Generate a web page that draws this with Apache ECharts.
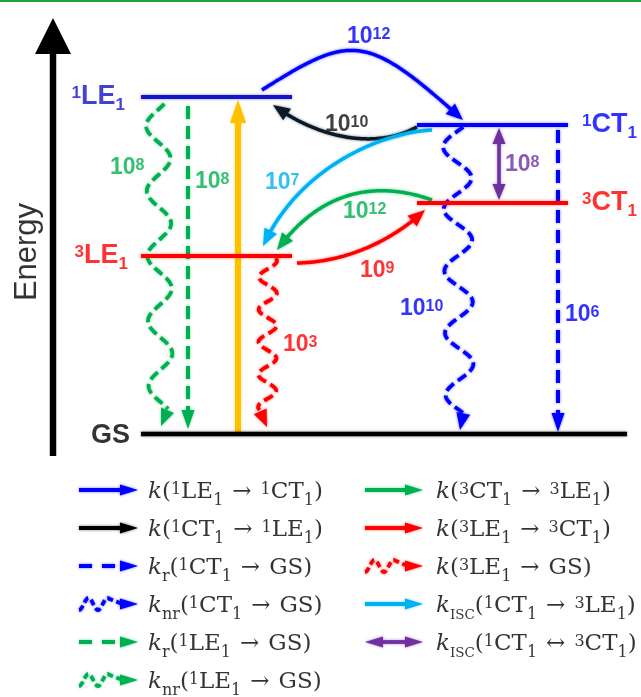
<!DOCTYPE html>
<html>
<head>
<meta charset="utf-8">
<title>Kinetic scheme</title>
<script src="https://cdn.jsdelivr.net/npm/echarts@6.0.0/dist/echarts.min.js"></script>
<style>
html,body{margin:0;padding:0;background:#ffffff;}
#chart{width:641px;height:697px;}
</style>
</head>
<body>
<div id="chart"></div>
<script>
// ================= DATA =================
// Electronic states: relative energy (diagram units, GS = 0) and horizontal extent of each level bar
const levelNames  = ['1LE1', '1CT1', '3CT1', '3LE1', 'GS'];
const levelEnergy = [337, 309, 231, 178, 0];
const levelStart  = [141, 417, 417, 141, 141];
const levelEnd    = [292, 568, 568, 292, 627];

// Transitions between states and their rate constants (k = 10^exp s^-1)
const transFrom    = ['1LE1', '1CT1', '1CT1', '3CT1', '3LE1', '1CT1', '1LE1', '1LE1', 'GS', '3LE1', '1CT1', '1CT1'];
const transTo      = ['1CT1', '1LE1', '3LE1', '3LE1', '3CT1', '3CT1', 'GS', 'GS', '1LE1', 'GS', 'GS', 'GS'];
const transRateExp = [12, 10, 7, 12, 9, 8, 8, 8, null, 3, 10, 6];

// Legend entries
const legendLabels = [
  '{k|k}{n|(}{p|1}{n|LE}{b|1}{a|→}{p|1}{n|CT}{b|1}{n|)}',
  '{k|k}{n|(}{p|1}{n|CT}{b|1}{a|→}{p|1}{n|LE}{b|1}{n|)}',
  '{k|k}{b|r}{n|(}{p|1}{n|CT}{b|1}{a|→}{n|GS)}',
  '{k|k}{b|nr}{n|(}{p|1}{n|CT}{b|1}{a|→}{n|GS)}',
  '{k|k}{b|r}{n|(}{p|1}{n|LE}{b|1}{a|→}{n|GS)}',
  '{k|k}{b|nr}{n|(}{p|1}{n|LE}{b|1}{a|→}{n|GS)}',
  '{k|k}{n|(}{p|3}{n|CT}{b|1}{a|→}{p|3}{n|LE}{b|1}{n|)}',
  '{k|k}{n|(}{p|3}{n|LE}{b|1}{a|→}{p|3}{n|CT}{b|1}{n|)}',
  '{k|k}{n|(}{p|3}{n|LE}{b|1}{a|→}{n|GS)}',
  '{k|k}{c|ISC}{n|(}{p|1}{n|CT}{b|1}{a|→}{p|3}{n|LE}{b|1}{n|)}',
  '{k|k}{c|ISC}{n|(}{p|1}{n|CT}{b|1}{a|↔}{p|3}{n|CT}{b|1}{n|)}'
];

// ================= PRESENTATION =================
const C = {blue:'#0000ff', navy:'#1414c8', black:'#000000', dark:'#0b1a28', green:'#00b050',
           red:'#ff0000', cyan:'#00b0f0', purple:'#7030a0', gold:'#ffc000'};
const levelColor      = [C.navy, C.blue, C.red, C.red, C.black];
const levelLabelX     = [125, 582, 582, 128, 130];
const levelLabelDE    = [0, 0, 0, 0, -2];
const levelLabelAlign = ['right', 'left', 'left', 'right', 'right'];

const transColor = [C.blue, C.dark, C.cyan, C.green, C.red, C.purple, C.green, C.green, C.gold, C.red, C.blue, C.blue];
// geometry in diagram units [x, energy]
const transGeom = [
  {kind:'curve',  pts:[[262,344],[352,401],[366,401],[463,314]]},
  {kind:'curve',  pts:[[417,307],[375,284],[318,296],[273,329]]},
  {kind:'curve',  pts:[[432,304],[385,302],[300,269],[263,188]]},
  {kind:'curve',  pts:[[432,234],[390,249],[328,254],[277,184]]},
  {kind:'curve',  pts:[[297,171],[350,172],[395,196],[425,224]]},
  {kind:'double', pts:[[499,306],[499,234]]},
  {kind:'wave',   pts:[[158,330],[161,8]],  wave:[65,12,22]},
  {kind:'dash',   pts:[[188,328],[188,5]]},
  {kind:'solid',  pts:[[238,1],[238,334]]},
  {kind:'wave',   pts:[[268,176],[267,7]],  wave:[32.5,9,19]},
  {kind:'wave',   pts:[[457,307],[460,4]],  wave:[62,14,20]},
  {kind:'dash',   pts:[[558,304],[558,2]]}
];
const rateLabelPos = [[347,397],[325,309],[265,251],[343,222],[360,163],[505,269],[110,266],[195,252],null,[283,89],[400,125],[565,119]];
const rateLabelColor = [C.blue, '#111111', C.cyan, C.green, C.red, C.purple, C.green, C.green, null, C.red, C.blue, C.blue];

const legendKind  = ['solid','solid','dash','wave','dash','wave','solid','solid','wave','solid','double'];
const legendColor = [C.blue, C.black, C.blue, C.blue, C.green, C.green, C.green, C.red, C.red, C.cyan, C.purple];
const legendCol   = [0,0,0,0,0,0,1,1,1,1,1];
const legendRow   = [0,1,2,3,4,5,0,1,2,3,4];
const colIconX = [[79,138],[365,423]];
const colTextX = [148, 436];
const rowE = [-57,-95,-133,-171,-209,-247];

// ================= HELPERS =================
function rgba(hex, a) {
  const h = hex.replace('#','');
  const r = parseInt(h.substr(0,2),16), g = parseInt(h.substr(2,2),16), b = parseInt(h.substr(4,2),16);
  return 'rgba(' + r + ',' + g + ',' + b + ',' + a + ')';
}
function bezier(p, n) {
  const out = [];
  for (let i = 0; i <= n; i++) {
    const t = i / n, a = 1 - t;
    out.push([
      a*a*a*p[0][0] + 3*a*a*t*p[1][0] + 3*a*t*t*p[2][0] + t*t*t*p[3][0],
      a*a*a*p[0][1] + 3*a*a*t*p[1][1] + 3*a*t*t*p[2][1] + t*t*t*p[3][1]
    ]);
  }
  return out;
}
function trimEnd(pts, len) {
  const tip = pts[pts.length - 1];
  let i = pts.length - 1;
  while (i > 0 && Math.hypot(pts[i][0]-tip[0], pts[i][1]-tip[1]) < len) i--;
  return pts.slice(0, i + 1);
}
function head(tip, from, len, wid) {
  const dx = tip[0]-from[0], dy = tip[1]-from[1], L = Math.hypot(dx, dy) || 1;
  const ux = dx/L, uy = dy/L;
  const bx = tip[0] - ux*len, by = tip[1] - uy*len;
  return [[tip[0], tip[1]], [bx - uy*wid/2, by + ux*wid/2], [bx + uy*wid/2, by - ux*wid/2]];
}
function drawArrow(kind, P, color, opt) {
  const hl = opt.hl, hw = opt.hw;
  const glow = opt.glow == null ? 3 : opt.glow;
  let body, heads = [];
  if (kind === 'curve') {
    const s = bezier(P, 120);
    const tip = s[s.length - 1];
    body = trimEnd(s, hl * 0.85);
    heads.push(head(tip, body[body.length - 1], hl, hw));
  } else if (kind === 'wave') {
    const lam = opt.wave[0], A = opt.wave[1], dL = opt.wave[2];
    const S = P[0], T = P[1];
    const L = Math.hypot(T[0]-S[0], T[1]-S[1]);
    const ux = (T[0]-S[0])/L, uy = (T[1]-S[1])/L;
    const nx = uy, ny = -ux;
    const dEnd = L - hl * (opt.straightEnd ? 1.6 : 1.0);
    body = [];
    for (let d = 0; d <= dEnd; d += 0.5) {
      const o = -A * Math.cos(2*Math.PI*(d - dL)/lam);
      body.push([S[0] + ux*d + nx*o, S[1] + uy*d + ny*o]);
    }
    if (opt.straightEnd) {
      body.push([T[0] - ux*hl*0.85, T[1] - uy*hl*0.85]);
      heads.push(head(T, S, hl, hw));
    } else {
      heads.push(head(T, body[body.length - 1], hl, hw));
    }
  } else {
    const S = P[0], T = P[1];
    const L = Math.hypot(T[0]-S[0], T[1]-S[1]);
    const ux = (T[0]-S[0])/L, uy = (T[1]-S[1])/L;
    const a = kind === 'double' ? [S[0] + ux*hl*0.85, S[1] + uy*hl*0.85] : S;
    body = [a, [T[0] - ux*hl*0.85, T[1] - uy*hl*0.85]];
    heads.push(head(T, S, hl, hw));
    if (kind === 'double') heads.push(head(S, T, hl, hw));
  }
  const dash = kind === 'dash' ? opt.dash : (kind === 'wave' ? opt.waveDash : null);
  const children = [{
    type: 'polyline', silent: true,
    shape: {points: body},
    style: {stroke: color, lineWidth: opt.lw, fill: 'none', lineDash: dash, lineJoin: 'round',
            shadowBlur: glow, shadowColor: rgba(color, 0.55)}
  }];
  heads.forEach(h => children.push({
    type: 'polygon', silent: true, shape: {points: h},
    style: {fill: color, stroke: 'none', shadowBlur: glow, shadowColor: rgba(color, 0.55)}
  }));
  return children;
}
function levelRich(name) {
  const m = name.match(/^(\d)(\D+)(\d)$/);
  return m ? '{p|' + m[1] + '}{m|' + m[2] + '}{b|' + m[3] + '}' : '{m|' + name + '}';
}

const SANS = "'Liberation Sans', Arial, sans-serif";
const SERIF = "'DejaVu Serif', serif";

// ================= CHART =================
const chart = echarts.init(document.getElementById('chart'), null, {renderer: 'canvas', width: 641, height: 697});

const option = {
  animation: false,
  backgroundColor: '#ffffff',
  grid: {left: 0, right: 0, top: 0, bottom: 0, containLabel: false},
  xAxis: {type: 'value', min: 0, max: 641, show: false},
  yAxis: {type: 'value', min: -263, max: 434, show: false},
  series: [
    // frame: energy axis + top rule
    {
      type: 'custom', name: 'frame', z: 1, clip: false,
      data: [[0, 0], [1, 0]],
      renderItem: function (params, api) {
        if (params.dataIndex === 0) {
          return {type: 'group', children: drawArrow('solid', [api.coord([53, -22]), api.coord([53, 416])], C.black,
            {lw: 6.5, hl: 36, hw: 36, glow: 0})};
        }
        const a = api.coord([0, 433]), b = api.coord([641, 433]);
        return {type: 'line', silent: true, shape: {x1: a[0], y1: a[1], x2: b[0], y2: b[1]},
                style: {stroke: '#22a03c', lineWidth: 2}};
      }
    },
    // transitions
    {
      type: 'custom', name: 'transitions', z: 2, clip: false,
      data: transFrom.map((f, i) => [i, transRateExp[i] == null ? 0 : transRateExp[i]]),
      renderItem: function (params, api) {
        const i = params.dataIndex, g = transGeom[i];
        const P = g.pts.map(p => api.coord(p));
        let opt;
        if (g.kind === 'curve') opt = {lw: 3.5, hl: 17, hw: 14};
        else if (g.kind === 'double') opt = {lw: 3.5, hl: 16, hw: 13};
        else if (g.kind === 'wave') opt = {lw: 3.8, hl: 17, hw: 14, wave: g.wave, waveDash: [10, 5]};
        else if (g.kind === 'dash') opt = {lw: 4, hl: 19, hw: 13, dash: [13, 7]};
        else opt = {lw: 6, hl: 23, hw: 16};
        return {type: 'group', children: drawArrow(g.kind, P, transColor[i], opt)};
      }
    },
    // energy levels
    {
      type: 'custom', name: 'levels', z: 3, clip: false,
      data: levelNames.map((n, i) => [levelStart[i], levelEnergy[i], levelEnd[i]]),
      renderItem: function (params, api) {
        const a = api.coord([api.value(0), api.value(1)]);
        const b = api.coord([api.value(2), api.value(1)]);
        const col = levelColor[params.dataIndex];
        return {type: 'line', silent: true, shape: {x1: a[0], y1: a[1], x2: b[0], y2: b[1]},
                style: {stroke: col, lineWidth: params.dataIndex === 4 ? 4.5 : 4, lineCap: 'butt',
                        shadowBlur: 3, shadowColor: rgba(col, 0.5)}};
      }
    },
    // legend icons
    {
      type: 'custom', name: 'legendIcons', z: 3, clip: false,
      data: legendLabels.map((t, i) => [colIconX[legendCol[i]][0], rowE[legendRow[i]] + 1]),
      renderItem: function (params, api) {
        const i = params.dataIndex, xs = colIconX[legendCol[i]], E = rowE[legendRow[i]] + 1;
        const P = [api.coord([xs[0], E]), api.coord([xs[1], E])];
        const opt = {lw: 3.8, hl: 18, hw: 11, dash: [13, 10], waveDash: [6, 3.5],
                     wave: [19, 6, 0], straightEnd: true, glow: 3};
        return {type: 'group', children: drawArrow(legendKind[i], P, legendColor[i], opt)};
      }
    },
    // rate-constant labels
    {
      type: 'scatter', name: 'rates', z: 5, symbolSize: 0, silent: true,
      data: transRateExp.map((e, i) => e == null ? null : {
        name: '{m|10}{s|' + e + '}',
        value: rateLabelPos[i],
        label: {color: rateLabelColor[i]}
      }).filter(d => d),
      label: {
        show: true, position: 'inside', align: 'left', verticalAlign: 'middle',
        formatter: p => p.name, lineHeight: 28,
        rich: {
          m: {fontFamily: SANS, fontWeight: 'bold', fontSize: 23, lineHeight: 28},
          s: {fontFamily: SANS, fontWeight: 'bold', fontSize: 16, lineHeight: 28, verticalAlign: 'top', height: 22.5}
        }
      }
    },
    // level labels
    {
      type: 'scatter', name: 'levelLabels', z: 5, symbolSize: 0, silent: true,
      data: levelNames.map((n, i) => ({
        name: levelRich(n),
        value: [levelLabelX[i], levelEnergy[i] + levelLabelDE[i]],
        label: {color: levelColor[i], align: levelLabelAlign[i]}
      })),
      label: {
        show: true, position: 'inside', verticalAlign: 'middle',
        formatter: p => p.name, lineHeight: 34,
        rich: {
          m: {fontFamily: SANS, fontWeight: 'bold', fontSize: 27, lineHeight: 34},
          p: {fontFamily: SANS, fontWeight: 'bold', fontSize: 17, lineHeight: 34, verticalAlign: 'top', height: 26.8},
          b: {fontFamily: SANS, fontWeight: 'bold', fontSize: 17, lineHeight: 34, verticalAlign: 'bottom', height: 17}
        }
      }
    },
    // axis title
    {
      type: 'scatter', name: 'axisTitle', z: 5, symbolSize: 0, silent: true,
      data: [{name: 'Energy', value: [27, 182]}],
      label: {show: true, position: 'inside', rotate: 90, formatter: p => p.name,
              fontFamily: SANS, fontSize: 31, color: '#000000'}
    },
    // legend labels
    {
      type: 'scatter', name: 'legendLabels', z: 5, symbolSize: 0, silent: true,
      data: legendLabels.map((t, i) => ({name: t, value: [colTextX[legendCol[i]], rowE[legendRow[i]] - 1]})),
      label: {
        show: true, position: 'inside', align: 'left', verticalAlign: 'middle', color: '#000000',
        formatter: p => p.name, lineHeight: 32,
        rich: {
          n: {fontFamily: SERIF, fontSize: 23, lineHeight: 32, color: '#000000'},
          k: {fontFamily: SERIF, fontSize: 23, lineHeight: 32, fontStyle: 'italic', color: '#000000'},
          a: {fontFamily: SERIF, fontSize: 23, lineHeight: 32, color: '#000000', padding: [0, 9, 0, 9]},
          p: {fontFamily: SERIF, fontSize: 16, lineHeight: 32, verticalAlign: 'top', height: 26.8, color: '#000000'},
          b: {fontFamily: SERIF, fontSize: 16, lineHeight: 32, verticalAlign: 'bottom', height: 15, color: '#000000'},
          c: {fontFamily: SERIF, fontSize: 13.5, lineHeight: 32, verticalAlign: 'bottom', height: 13, color: '#000000'}
        }
      }
    }
  ]
};
chart.setOption(option);
</script>
</body>
</html>
